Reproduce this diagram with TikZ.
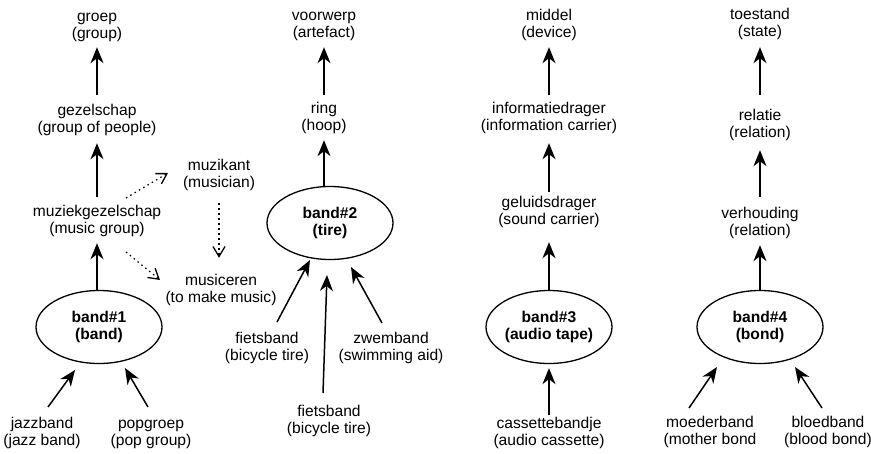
\documentclass[tikz,border=0pt]{standalone}
\usepackage{fontspec}
\setmainfont{Liberation Sans}
\usetikzlibrary{arrows.meta,shapes.geometric,positioning,calc}

\begin{document}
\begin{tikzpicture}[
    x=1pt, y=-1pt,
    word/.style={align=center, inner sep=0pt, text height=28.5pt, text depth=3.5pt,
                 font=\fontsize{15.6}{17}\selectfont},
    sense/.style={ellipse, draw, line width=1.3pt, minimum width=126pt,
                  minimum height=73pt, inner sep=0pt, align=center,
                  font=\fontsize{15.6}{17}\selectfont\bfseries},
    isa/.style={-{Stealth[length=16pt, width=13pt, inset=5pt]}, line width=1.5pt,
                shorten <=7pt, shorten >=6pt},
    leaf/.style={isa, shorten <=0pt, shorten >=0pt},
    rel/.style={-{Straight Barb[length=10pt, width=12pt, line width=1.3pt]}, line width=1.2pt,
                dash pattern=on 1.5pt off 3.5pt}
  ]
    \useasboundingbox (0,0) rectangle (871,453);

    % band#1
    \node[word] (groep) at (97,26) {groep\\(group)};
    \node[word] (gezelschap) at (97,120) {gezelschap\\(group of people)};
    \node[word] (muziekgez) at (97,221) {muziekgezelschap\\(music group)};
    \node[sense] (band1) at (99,327) {band\#1\\(band)};
    \node[word] (jazzband) at (42,433) {jazzband\\(jazz band)};
    \node[word] (popgroep) at (151,433) {popgroep\\(pop group)};
    \node[word] (muzikant) at (219,175) {muzikant\\(musician)};
    \node[word] (musiceren) at (221,290) {musiceren\\(to make music)};

    \draw[isa, shorten <=9pt, shorten >=5pt] (gezelschap) -- (groep);
    \draw[isa, shorten <=8pt, shorten >=7pt] (muziekgez) -- (gezelschap);
    \draw[isa, shorten <=0pt] (band1.north -| muziekgez) -- (muziekgez);
    \draw[leaf] ($(jazzband)+(6,-26)$) -- ($(band1)+(-24,43)$);
    \draw[leaf] ($(popgroep)+(-3,-26)$) -- ($(band1)+(26,41)$);
    \draw[rel] ($(muziekgez)+(29,-23)$) -- ($(muzikant)+(-51,-2)$);
    \draw[rel] ($(muziekgez)+(29,31)$) -- ($(musiceren)+(-61,-10)$);
    \draw[rel, shorten <=12pt, shorten >=16pt] (muzikant.south) -- (muzikant.south |- musiceren.north);

    % band#2
    \node[word] (voorwerp) at (324,25) {voorwerp\\(artefact)};
    \node[word] (ring) at (324,118) {ring\\(hoop)};
    \node[sense] (band2) at (330,223) {band\#2\\(tire)};
    \node[word] (fietsband1) at (267,348) {fietsband\\(bicycle tire)};
    \node[word] (fietsband2) at (329,421) {fietsband\\(bicycle tire)};
    \node[word] (zwemband) at (391,348) {zwemband\\(swimming aid)};

    \draw[isa] (ring) -- (voorwerp);
    \draw[isa, shorten <=0pt] (band2.north -| ring) -- (ring);
    \draw[leaf] ($(fietsband1)+(10,-26)$) -- ($(band2)+(-20,37)$);
    \draw[leaf] ($(fietsband2)+(-6,-28)$) -- ($(band2)+(-3,52)$);
    \draw[leaf] ($(zwemband)+(-9,-25)$) -- ($(band2)+(21,44)$);

    % band#3
    \node[word] (middel) at (549,25) {middel\\(device)};
    \node[word] (infodrager) at (549,118) {informatiedrager\\(information carrier)};
    \node[word] (geluidsdrager) at (549,212) {geluidsdrager\\(sound carrier)};
    \node[sense] (band3) at (549,327) {band\#3\\(audio tape)};
    \node[word] (cassette) at (549,433) {cassettebandje\\(audio cassette)};

    \draw[isa] (infodrager) -- (middel);
    \draw[isa, shorten <=4pt, shorten >=9pt] (geluidsdrager) -- (infodrager);
    \draw[isa, shorten <=0pt, shorten >=14pt] (band3) -- (geluidsdrager);
    \draw[isa, shorten <=2pt, shorten >=4pt] (cassette) -- (band3);

    % band#4
    \node[word] (toestand) at (760,24) {toestand\\(state)};
    \node[word] (relatie) at (760,125) {relatie\\(relation)};
    \node[word] (verhouding) at (760,223) {verhouding\\(relation)};
    \node[sense] (band4) at (760,327) {band\#4\\(bond)};
    \node[word] (moederband) at (710,432) {moederband\\(mother bond};
    \node[word] (bloedband) at (828,432) {bloedband\\(blood bond)};

    \draw[isa, shorten <=14pt, shorten >=7pt] (relatie) -- (toestand);
    \draw[isa, shorten <=10pt, shorten >=9pt] (verhouding) -- (relatie);
    \draw[isa, shorten <=0pt] (band4) -- (verhouding);
    \draw[leaf] ($(moederband)+(-21,-24)$) -- ($(band4)+(-43,40)$);
    \draw[leaf] ($(bloedband)+(-6,-24)$) -- ($(band4)+(35,40)$);
\end{tikzpicture}
\end{document}
